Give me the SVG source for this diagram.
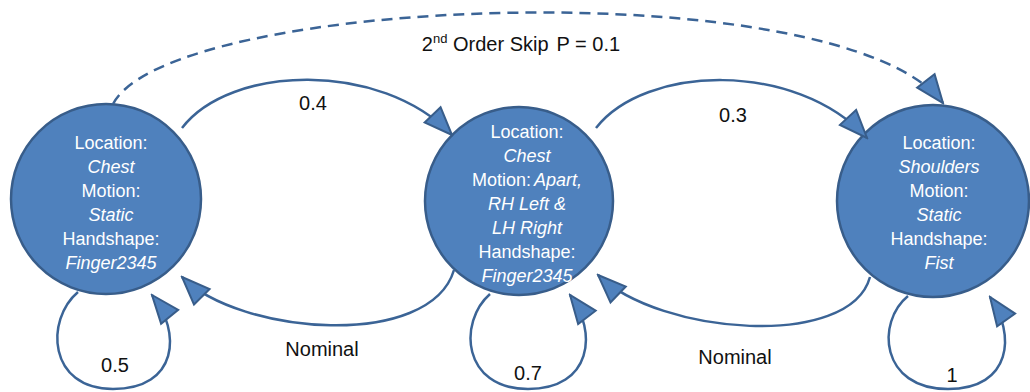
<svg xmlns="http://www.w3.org/2000/svg" width="1030" height="392" viewBox="0 0 1030 392">
  <defs>
    <style>
      .state { fill: #4F81BD; stroke: #385D8A; stroke-width: 2.5; }
      .st { font-family: "Liberation Sans", Arial, sans-serif; font-size: 18px; fill: #ffffff; text-anchor: middle; }
      .st .v { font-style: italic; }
      .edge { fill: none; stroke: #3B6496; stroke-width: 2.5; marker-end: url(#head); }
      .skip { stroke-dasharray: 11 7; }
      .lbl { font-family: "Liberation Sans", Arial, sans-serif; font-size: 20px; fill: #111111; text-anchor: middle; }
    </style>
    <marker id="head" markerUnits="userSpaceOnUse" markerWidth="32" markerHeight="26" viewBox="0 0 32 26" refX="30" refY="13" orient="auto">
      <path d="M2,2 L30,13 L2,24 Z" fill="#4F81BD" stroke="#385D8A" stroke-width="2" stroke-linejoin="miter"/>
    </marker>
  </defs>

  <rect width="1030" height="392" fill="#ffffff"/>

  <!-- states -->
  <g id="state-1">
    <circle class="state" cx="106" cy="199" r="95"/>
    <text class="st" x="111" y="149">Location:</text>
    <text class="st" x="111" y="173"><tspan class="v">Chest</tspan></text>
    <text class="st" x="111" y="197">Motion:</text>
    <text class="st" x="111" y="221"><tspan class="v">Static</tspan></text>
    <text class="st" x="111" y="245">Handshape:</text>
    <text class="st" x="111" y="269"><tspan class="v">Finger2345</tspan></text>
  </g>

  <g id="state-2">
    <circle class="state" cx="519" cy="201" r="94"/>
    <text class="st" x="527" y="138">Location:</text>
    <text class="st" x="527" y="162"><tspan class="v">Chest</tspan></text>
    <text class="st" x="527" y="186">Motion:<tspan class="v" dx="3">Apart,</tspan></text>
    <text class="st" x="527" y="210"><tspan class="v">RH Left &amp;</tspan></text>
    <text class="st" x="527" y="234"><tspan class="v">LH Right</tspan></text>
    <text class="st" x="527" y="258">Handshape:</text>
    <text class="st" x="527" y="282"><tspan class="v">Finger2345</tspan></text>
  </g>

  <g id="state-3">
    <circle class="state" cx="933" cy="201" r="96"/>
    <text class="st" x="939" y="149">Location:</text>
    <text class="st" x="939" y="173"><tspan class="v">Shoulders</tspan></text>
    <text class="st" x="939" y="197">Motion:</text>
    <text class="st" x="939" y="221"><tspan class="v">Static</tspan></text>
    <text class="st" x="939" y="245">Handshape:</text>
    <text class="st" x="939" y="269"><tspan class="v">Fist</tspan></text>
  </g>

  <!-- transitions -->
  <g id="transitions">
    <!-- forward steps -->
    <path class="edge" d="M182,128 C230,65 380,60 452,135"/>
    <path class="edge" d="M596,128 C645,65 795,60 867,138"/>
    <!-- skip over the middle state -->
    <path class="edge skip" d="M113,104 C170,-5 840,-30 943,103"/>
    <!-- backward (nominal) steps -->
    <path class="edge" d="M454,270 C430,350 240,335 182,277"/>
    <path class="edge" d="M870,277 C850,350 660,335 598,275"/>
    <!-- self loops -->
    <path class="edge" d="M78,292 C45,320 48,389 113,389 C178,389 182,332 152,295"/>
    <path class="edge" d="M490,294 C458,322 462,389 528,389 C592,389 598,332 570,295"/>
    <path class="edge" d="M908,296 C876,322 880,389 948,389 C1012,389 1016,334 990,297"/>
  </g>

  <!-- transition probabilities -->
  <g id="labels">
    <text class="lbl" x="313" y="110">0.4</text>
    <text class="lbl" x="733" y="122">0.3</text>
    <text class="lbl" x="521" y="51" font-size="21">2<tspan font-size="13" dy="-8">nd</tspan><tspan dy="8"> Order Skip</tspan><tspan dx="8">P = 0.1</tspan></text>
    <text class="lbl" x="322" y="356">Nominal</text>
    <text class="lbl" x="735" y="364">Nominal</text>
    <text class="lbl" x="115" y="372">0.5</text>
    <text class="lbl" x="528" y="380">0.7</text>
    <text class="lbl" x="952" y="382">1</text>
  </g>
</svg>
